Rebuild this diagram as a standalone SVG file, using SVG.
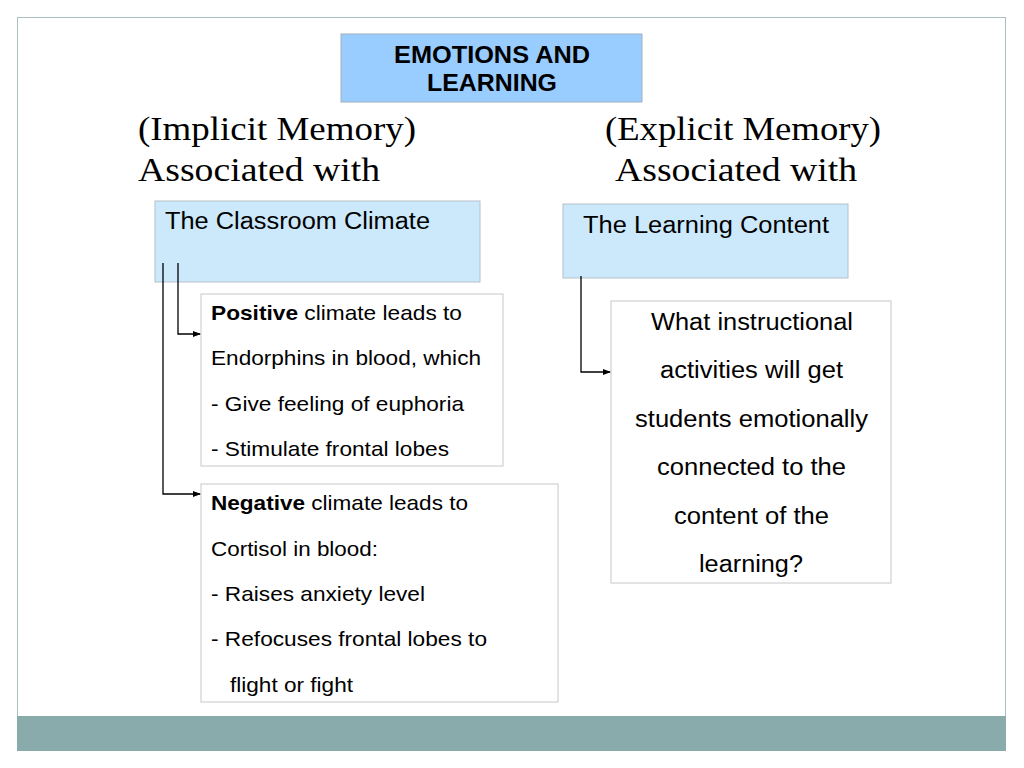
<svg xmlns="http://www.w3.org/2000/svg" width="1024" height="768" viewBox="0 0 1024 768">
<style>
.sans{font-family:"Liberation Sans",Arial,sans-serif;fill:#000}
.serif{font-family:"Liberation Serif","Times New Roman",serif;font-size:34px;fill:#000}
.box{fill:#fff;stroke:#c8c8c8;stroke-width:1}
.blue{fill:#cce9fc;stroke:#b4c0c8;stroke-width:1}
.conn{fill:none;stroke:#000;stroke-width:1.3}
</style>
<defs>
<marker id="arr" markerWidth="8" markerHeight="8" refX="7" refY="4" orient="auto" markerUnits="userSpaceOnUse">
<path d="M0,1 L8,4 L0,7 Z" fill="#000"/>
</marker>
</defs>
<rect width="1024" height="768" fill="#fff"/>
<rect x="17.5" y="17.5" width="988" height="733" fill="#fff" stroke="#aac0c0" stroke-width="1"/>
<rect x="17" y="716" width="989" height="35" fill="#8aabab"/>
<g id="title">
<rect x="341" y="34" width="301" height="68" fill="#99ccff" stroke="#a0b0c0"/>
<text class="sans" x="492" y="63" font-size="23" font-weight="bold" text-anchor="middle" textLength="196" lengthAdjust="spacingAndGlyphs">EMOTIONS AND</text>
<text class="sans" x="492" y="91" font-size="23" font-weight="bold" text-anchor="middle" textLength="130" lengthAdjust="spacingAndGlyphs">LEARNING</text>
</g>
<g id="implicit-heading">
<text class="serif" x="138" y="140" textLength="278" lengthAdjust="spacingAndGlyphs">(Implicit Memory)</text>
<text class="serif" x="138" y="181" textLength="242" lengthAdjust="spacingAndGlyphs">Associated with</text>
</g>
<g id="explicit-heading">
<text class="serif" x="605" y="140" textLength="276" lengthAdjust="spacingAndGlyphs">(Explicit Memory)</text>
<text class="serif" x="615" y="181" textLength="242" lengthAdjust="spacingAndGlyphs">Associated with</text>
</g>
<g id="classroom">
<rect class="blue" x="155" y="201" width="325" height="81"/>
<text class="sans" x="165" y="229" font-size="23" textLength="265" lengthAdjust="spacingAndGlyphs">The Classroom Climate</text>
</g>
<g id="content">
<rect class="blue" x="563" y="204" width="285" height="74"/>
<text class="sans" x="583" y="233" font-size="23" textLength="246" lengthAdjust="spacingAndGlyphs">The Learning Content</text>
</g>
<g id="positive">
<rect class="box" x="201" y="294" width="302" height="172"/>
<text class="sans" x="211" y="320" font-size="21" textLength="251" lengthAdjust="spacingAndGlyphs"><tspan font-weight="bold">Positive</tspan> climate leads to</text>
<text class="sans" x="211" y="365" font-size="21" textLength="270" lengthAdjust="spacingAndGlyphs">Endorphins in blood, which</text>
<text class="sans" x="211" y="411" font-size="21" textLength="253" lengthAdjust="spacingAndGlyphs">- Give feeling of euphoria</text>
<text class="sans" x="211" y="456" font-size="21" textLength="238" lengthAdjust="spacingAndGlyphs">- Stimulate frontal lobes</text>
</g>
<g id="negative">
<rect class="box" x="201" y="484" width="357" height="218"/>
<text class="sans" x="211" y="510" font-size="21" textLength="257" lengthAdjust="spacingAndGlyphs"><tspan font-weight="bold">Negative</tspan> climate leads to</text>
<text class="sans" x="211" y="556" font-size="21" textLength="167" lengthAdjust="spacingAndGlyphs">Cortisol in blood:</text>
<text class="sans" x="211" y="601" font-size="21" textLength="214" lengthAdjust="spacingAndGlyphs">- Raises anxiety level</text>
<text class="sans" x="211" y="646" font-size="21" textLength="276" lengthAdjust="spacingAndGlyphs">- Refocuses frontal lobes to</text>
<text class="sans" x="230" y="692" font-size="21" textLength="123" lengthAdjust="spacingAndGlyphs">flight or fight</text>
</g>
<g id="question">
<rect class="box" x="611" y="301" width="280" height="282"/>
<g class="sans" font-size="23" text-anchor="middle">
<text x="752" y="330" textLength="202" lengthAdjust="spacingAndGlyphs">What instructional</text>
<text x="751.5" y="378" textLength="183" lengthAdjust="spacingAndGlyphs">activities will get</text>
<text x="751.5" y="427" textLength="233" lengthAdjust="spacingAndGlyphs">students emotionally</text>
<text x="751.5" y="475" textLength="189" lengthAdjust="spacingAndGlyphs">connected to the</text>
<text x="751.5" y="524" textLength="155" lengthAdjust="spacingAndGlyphs">content of the</text>
<text x="751" y="572" textLength="104" lengthAdjust="spacingAndGlyphs">learning?</text>
</g>
</g>
<g id="connectors">
<path class="conn" d="M178,263 V334 H200" marker-end="url(#arr)"/>
<path class="conn" d="M163,263 V494 H200" marker-end="url(#arr)"/>
<path class="conn" d="M581,276 V372 H610" marker-end="url(#arr)"/>
</g>
</svg>
